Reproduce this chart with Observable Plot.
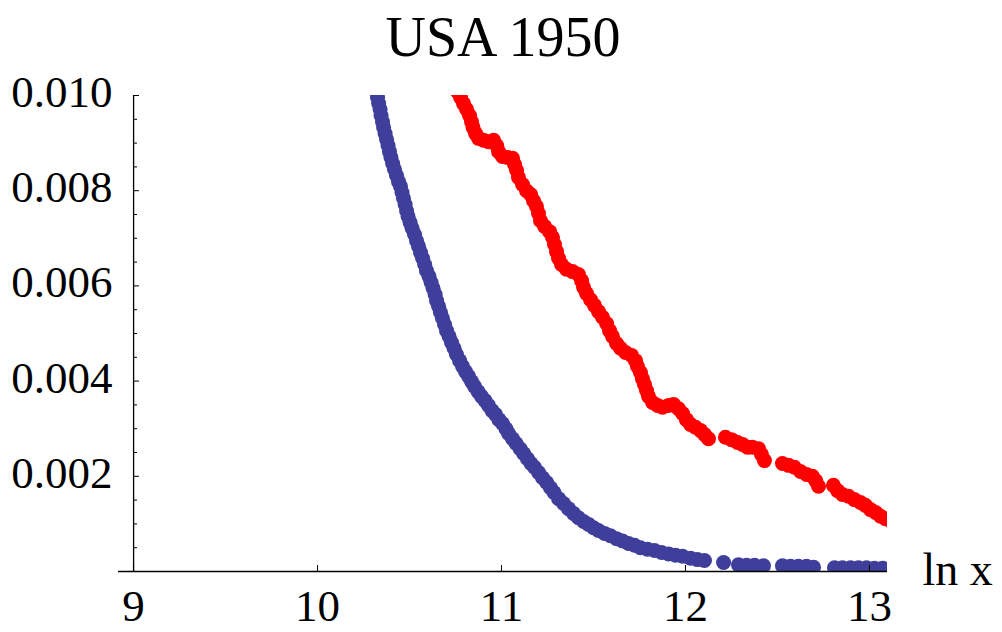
<!DOCTYPE html>
<html>
<head>
<meta charset="utf-8">
<script src="https://cdn.jsdelivr.net/npm/d3@7"></script>
<script src="https://cdn.jsdelivr.net/npm/@observablehq/plot@0.6"></script>
<style>
  html, body { margin: 0; padding: 0; background: #ffffff; }
  #chart { width: 1002px; height: 632px; }
</style>
</head>
<body>
<div id="chart"></div>
<script>
// ---- Data ----
const title = "USA 1950";
const xLabel = "ln x";
const xTicks = [9, 10, 11, 12, 13];
const yTicks = [0.002, 0.004, 0.006, 0.008, 0.010];
const yMinorTicks = [0.0005, 0.001, 0.0015, 0.0025, 0.003, 0.0035, 0.0045, 0.005, 0.0055,
  0.0065, 0.007, 0.0075, 0.0085, 0.009, 0.0095];

const blueX = [10.321, 10.326, 10.332, 10.340, 10.345, 10.353, 10.359, 10.367, 10.375, 10.383, 10.391,
  10.399, 10.408, 10.418, 10.429, 10.440, 10.451, 10.459, 10.467, 10.476, 10.484, 10.492,
  10.503, 10.514, 10.527, 10.538, 10.549, 10.560, 10.571, 10.582, 10.592, 10.606, 10.617,
  10.628, 10.639, 10.647, 10.658, 10.668, 10.679, 10.690, 10.701, 10.715, 10.728, 10.742,
  10.755, 10.772, 10.788, 10.804, 10.821, 10.837, 10.853, 10.872, 10.891, 10.910, 10.929,
  10.948, 10.967, 10.986, 11.005, 11.024, 11.038, 11.060, 11.079, 11.101, 11.120, 11.141,
  11.160, 11.179, 11.201, 11.223, 11.245, 11.266, 11.285, 11.310, 11.337, 11.364, 11.391,
  11.418, 11.446, 11.473, 11.500, 11.527, 11.560, 11.592, 11.625, 11.658, 11.690, 11.723,
  11.755, 11.793, 11.832, 11.870, 11.908, 11.946, 11.984, 12.027, 12.065, 12.103, 12.207,
  12.288, 12.332, 12.375, 12.424, 12.527, 12.571, 12.614, 12.658, 12.696, 12.810, 12.853,
  12.897, 12.940, 12.984, 13.027, 13.071, 13.114];
const blueY = [0.01008, 0.00996, 0.00983, 0.00971, 0.00958, 0.00945, 0.00933, 0.00920, 0.00908, 0.00895, 0.00882,
  0.00870, 0.00857, 0.00845, 0.00832, 0.00819, 0.00809, 0.00796, 0.00784, 0.00771, 0.00758, 0.00746,
  0.00733, 0.00721, 0.00708, 0.00695, 0.00683, 0.00670, 0.00658, 0.00645, 0.00632, 0.00620, 0.00607,
  0.00595, 0.00582, 0.00569, 0.00557, 0.00544, 0.00532, 0.00519, 0.00506, 0.00494, 0.00481, 0.00469,
  0.00456, 0.00443, 0.00431, 0.00420, 0.00410, 0.00399, 0.00389, 0.00378, 0.00368, 0.00359, 0.00349,
  0.00338, 0.00330, 0.00319, 0.00311, 0.00300, 0.00290, 0.00279, 0.00269, 0.00258, 0.00248, 0.00237,
  0.00227, 0.00219, 0.00208, 0.00197, 0.00187, 0.00176, 0.00166, 0.00153, 0.00143, 0.00132, 0.00122,
  0.00113, 0.00105, 0.00099, 0.00092, 0.00086, 0.00080, 0.00075, 0.00069, 0.00064, 0.00059, 0.00055,
  0.00050, 0.00047, 0.00044, 0.00040, 0.00037, 0.00034, 0.00032, 0.00028, 0.00025, 0.00023, 0.00019,
  0.00014, 0.00013, 0.00013, 0.00012, 0.00012, 0.00011, 0.00011, 0.00011, 0.00009, 0.00008, 0.00008,
  0.00008, 0.00008, 0.00008, 0.00007, 0.00007, 0.00007];

const redX = [10.761, 10.777, 10.793, 10.810, 10.826, 10.837, 10.845, 10.859, 10.875, 10.902, 10.929,
  10.957, 10.973, 10.984, 11.005, 11.033, 11.060, 11.071, 11.082, 11.092, 11.114, 11.136,
  11.158, 11.174, 11.190, 11.201, 11.212, 11.234, 11.261, 11.277, 11.288, 11.299, 11.310,
  11.326, 11.353, 11.386, 11.418, 11.435, 11.446, 11.462, 11.484, 11.505, 11.527, 11.549,
  11.571, 11.587, 11.603, 11.625, 11.647, 11.674, 11.707, 11.728, 11.739, 11.755, 11.766,
  11.777, 11.788, 11.799, 11.821, 11.848, 11.875, 11.908, 11.935, 11.962, 11.984, 12.005,
  12.027, 12.054, 12.082, 12.103, 12.125,
  12.217, 12.250, 12.283, 12.310, 12.337, 12.364, 12.397, 12.413, 12.429,
  12.527, 12.560, 12.592, 12.625, 12.658, 12.690, 12.707, 12.723,
  12.804, 12.826, 12.853, 12.886, 12.918, 12.951, 12.978, 13.005, 13.033, 13.060, 13.087, 13.114];
const redY = [0.01008, 0.00996, 0.00983, 0.00971, 0.00958, 0.00945, 0.00933, 0.00920, 0.00910, 0.00906, 0.00903,
  0.00906, 0.00895, 0.00882, 0.00872, 0.00870, 0.00868, 0.00855, 0.00843, 0.00828, 0.00813, 0.00800,
  0.00792, 0.00779, 0.00767, 0.00752, 0.00737, 0.00725, 0.00714, 0.00702, 0.00687, 0.00672, 0.00658,
  0.00645, 0.00635, 0.00630, 0.00624, 0.00611, 0.00597, 0.00584, 0.00571, 0.00559, 0.00546, 0.00534,
  0.00521, 0.00506, 0.00494, 0.00479, 0.00469, 0.00460, 0.00454, 0.00443, 0.00431, 0.00418, 0.00405,
  0.00393, 0.00380, 0.00368, 0.00355, 0.00349, 0.00345, 0.00349, 0.00351, 0.00342, 0.00332, 0.00319,
  0.00309, 0.00303, 0.00296, 0.00288, 0.00279,
  0.00282, 0.00277, 0.00271, 0.00267, 0.00261, 0.00261, 0.00258, 0.00246, 0.00233,
  0.00227, 0.00223, 0.00219, 0.00210, 0.00204, 0.00200, 0.00191, 0.00179,
  0.00181, 0.00170, 0.00162, 0.00158, 0.00151, 0.00145, 0.00139, 0.00130, 0.00124, 0.00116, 0.00111, 0.00107];

const blue = blueX.map((x, i) => ({x, y: blueY[i]}));
const red = redX.map((x, i) => ({x, y: redY[i]}));

// ---- Layout ----
const W = 1002, H = 632;
const mL = 118, mR = 115, mT = 95, mB = 61;
const innerW = W - mL - mR, innerH = H - mT - mB;
const yAxisOffset = 15; // y axis sits at x = 9, slightly right of frame left
const font = "'Liberation Serif', 'Times New Roman', serif";

const chart = Plot.plot({
  width: W,
  height: H,
  marginLeft: mL,
  marginRight: mR,
  marginTop: mT,
  marginBottom: mB,
  x: {domain: [8.918, 13.098]},
  y: {domain: [0, 0.010]},
  style: {fontFamily: font, fontSize: "45px", background: "#ffffff", color: "#000000"},
  marks: [
    Plot.dot(blue, {x: "x", y: "y", r: 7.5, fill: "#3f3f9b", clip: true}),
    Plot.dot(red, {x: "x", y: "y", r: 7.5, fill: "#ff0000", clip: true}),
    Plot.ruleY([0], {stroke: "#000", strokeWidth: 1.3}),
    Plot.ruleX([9], {stroke: "#000", strokeWidth: 1.3}),
    Plot.tickX(xTicks, {x: d => d, insetTop: innerH - 6, stroke: "#000", strokeWidth: 1}),
    Plot.tickY(yTicks, {y: d => d, insetLeft: yAxisOffset, insetRight: innerW - yAxisOffset - 6, stroke: "#000", strokeWidth: 1}),
    Plot.tickY(yMinorTicks, {y: d => d, insetLeft: yAxisOffset, insetRight: innerW - yAxisOffset - 4, stroke: "#000", strokeWidth: 1}),
    Plot.axisX({ticks: xTicks, tickSize: 0, tickPadding: 18, tickFormat: d3.format("d"), label: null, fontSize: 45}),
    Plot.axisY({anchor: "left", ticks: yTicks, tickSize: 0, tickPadding: 6, tickFormat: d3.format(".3f"), label: null, fontSize: 45, dy: -3}),
    Plot.text([xLabel], {frameAnchor: "bottom-right", textAnchor: "start", lineAnchor: "bottom", dx: 35, dy: 13, fontSize: 46, fill: "#000"}),
    Plot.text([title], {frameAnchor: "top", textAnchor: "middle", lineAnchor: "bottom", dy: -40, fontSize: 56, fill: "#000"})
  ]
});
document.getElementById("chart").appendChild(chart);
</script>
</body>
</html>
